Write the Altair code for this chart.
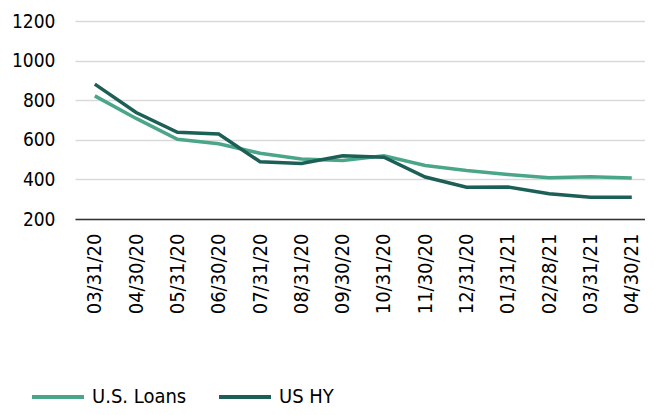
import altair as alt
import pandas as pd

dates = ["03/31/20", "04/30/20", "05/31/20", "06/30/20", "07/31/20", "08/31/20",
         "09/30/20", "10/31/20", "11/30/20", "12/31/20", "01/31/21", "02/28/21",
         "03/31/21", "04/30/21"]
us_loans = [822, 708, 603, 580, 532, 503, 496, 519, 470, 445, 425, 408, 414, 407]
us_hy = [881, 738, 638, 629, 489, 480, 519, 512, 412, 360, 362, 328, 310, 310]
series = ["U.S. Loans", "US HY"]
colors = ["#4ba689", "#1c5f56"]

rows = []
for d, a, b in zip(dates, us_loans, us_hy):
    rows.append({"date": d, "series": series[0], "value": a})
    rows.append({"date": d, "series": series[1], "value": b})
df = pd.DataFrame(rows)

FONT = "DejaVu Sans Condensed"

chart = alt.Chart(df).mark_line(strokeWidth=3.5).encode(
    x=alt.X("date:N", sort=dates, title=None,
            scale=alt.Scale(type="point", padding=0.4, align=0.6),
            axis=alt.Axis(labelAngle=-90, labelAlign="right", labelBaseline="middle",
                          labelPadding=14, ticks=False, domainColor="#333333",
                          domainWidth=1.5, labelFontSize=20, labelColor="#000000",
                          labelFont=FONT, grid=False)),
    y=alt.Y("value:Q", title=None,
            scale=alt.Scale(domain=[200, 1200], nice=False, zero=False),
            axis=alt.Axis(values=[200, 400, 600, 800, 1000, 1200], domain=False,
                          format="d", ticks=False, labelPadding=20, labelFontSize=19,
                          labelColor="#000000", labelFont=FONT,
                          gridColor="#d9d9d9", gridWidth=1.5)),
    color=alt.Color("series:N", sort=series,
                    scale=alt.Scale(domain=series, range=colors),
                    legend=alt.Legend(title=None, orient="none", direction="horizontal",
                                      legendX=-45, legendY=348, symbolType="stroke",
                                      symbolSize=2704, symbolStrokeWidth=4,
                                      labelFontSize=20, labelFont=FONT,
                                      labelColor="#000000", labelOffset=6,
                                      columnPadding=24)),
).properties(
    width=570, height=198,
    autosize=alt.AutoSizeParams(type="none"),
    padding={"left": 67, "top": 13, "right": 0, "bottom": 188},
).configure_view(stroke=None)

chart.save("out.html", embed_options={"renderer": "svg", "actions": False})
